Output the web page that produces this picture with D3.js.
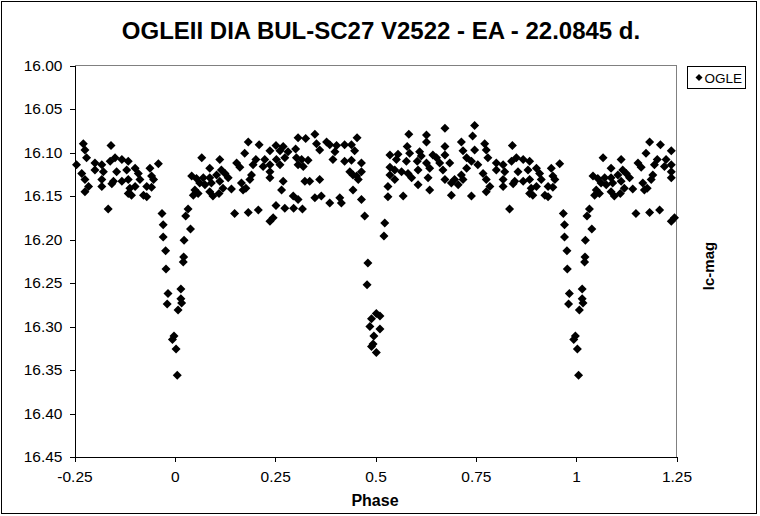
<!DOCTYPE html>
<html>
<head>
<meta charset="utf-8">
<script src="https://cdn.jsdelivr.net/npm/d3@7"></script>
<style>
  body { margin: 0; background: #fff; }
  svg { display: block; font-family: Arial, "Liberation Sans", sans-serif; }
  .axis text { font-size: 15.5px; fill: #000; }
  .axis path, .axis line { stroke: #000; shape-rendering: crispEdges; }
</style>
</head>
<body>
<div id="chart"></div>
<script>
var phase = [
  0.968, 0.971, 0.971, 0.977, 0.978, 0.983, 0.981, 0.998, 0.994,
  0.003, 0.006, 0.015, 0.015, 0.017, 0.008, 0.021, 0.022, 0.023, 0.039, 0.027, 0.033,
  0.349, 0.307, 0.326, 0.378, 0.353, 0.183, 0.210, 0.252, 0.270, 0.237, 0.262, 0.282, 0.301, 0.361,
  0.174, 0.067, 0.112, 0.087, 0.116, 0.154, 0.162, 0.202, 0.224, 0.253, 0.274, 0.303, 0.316, 0.332,
  0.195, 0.220, 0.237, 0.262, 0.307, 0.320, 0.237, 0.191, 0.237, 0.042, 0.054, 0.071, 0.087, 0.104,
  0.125, 0.133, 0.112, 0.091, 0.075, 0.062, 0.187, 0.166, 0.177, 0.141, 0.050, 0.058, 0.046, 0.087,
  0.095, 0.110, 0.120, 0.170, 0.270, 0.266, 0.324, 0.336, 0.361, 0.295, 0.307, 0.349, 0.365,
  0.149, 0.183, 0.208, 0.252, 0.274, 0.296, 0.318, 0.245, 0.237,
  0.454, 0.386, 0.403, 0.423, 0.440, 0.448, 0.399, 0.394, 0.423, 0.440, 0.465, 0.436, 0.444, 0.453,
  0.465, 0.457, 0.444, 0.411, 0.415, 0.465, 0.386, 0.473, 0.523,
  0.521, 0.481, 0.479, 0.502, 0.511, 0.490, 0.486, 0.511, 0.496, 0.490, 0.494, 0.502,
  0.583, 0.627, 0.673, 0.747, 0.742, 0.627, 0.579, 0.673, 0.714, 0.772, 0.776, 0.718, 0.747,
  0.536, 0.556, 0.585, 0.610, 0.614, 0.643, 0.652, 0.673, 0.727, 0.739, 0.780, 0.552, 0.577, 0.604,
  0.627, 0.660, 0.685, 0.755, 0.536, 0.548, 0.565, 0.606, 0.635, 0.668, 0.727, 0.801, 0.536, 0.581,
  0.590, 0.631, 0.673, 0.714, 0.697, 0.718, 0.768, 0.776, 0.548, 0.531, 0.606, 0.635, 0.689, 0.706,
  0.785, 0.776, 0.531, 0.569, 0.689, 0.739,
  0.841, 0.801, 0.818, 0.839, 0.851, 0.868, 0.884, 0.901, 0.909, 0.938, 0.959, 0.822, 0.855, 0.880,
  0.818, 0.847, 0.868, 0.884, 0.913, 0.942, 0.947, 0.818, 0.843, 0.888, 0.901, 0.930, 0.942, 0.884,
  0.892, 0.922, 0.930, 0.834
];
var mag = [
  16.170, 16.183, 16.197, 16.213, 16.234, 16.262, 16.274, 16.311, 16.315,
  16.326, 16.356, 16.257, 16.268, 16.273, 16.281, 16.226, 16.220, 16.201, 16.188, 16.173, 16.165,
  16.079, 16.083, 16.084, 16.088, 16.090, 16.088, 16.091, 16.092, 16.093, 16.098, 16.098, 16.099, 16.096, 16.097,
  16.101, 16.106, 16.108, 16.118, 16.120, 16.112, 16.117, 16.108, 16.108, 16.108, 16.106, 16.106, 16.108, 16.109,
  16.114, 16.116, 16.114, 16.114, 16.114, 16.116, 16.122, 16.126, 16.129, 16.127, 16.130, 16.129, 16.129, 16.126,
  16.124, 16.129, 16.133, 16.135, 16.137, 16.135, 16.131, 16.135, 16.141, 16.142, 16.143, 16.147, 16.149, 16.145,
  16.150, 16.147, 16.141, 16.143, 16.133, 16.143, 16.133, 16.133, 16.131, 16.150, 16.154, 16.152, 16.150,
  16.170, 16.169, 16.166, 16.161, 16.164, 16.164, 16.165, 16.175, 16.179,
  16.083, 16.091, 16.092, 16.091, 16.091, 16.098, 16.099, 16.108, 16.110, 16.109, 16.112, 16.122, 16.126, 16.127,
  16.122, 16.131, 16.143, 16.152, 16.158, 16.154, 16.158, 16.173, 16.181,
  16.196, 16.227, 16.252, 16.285, 16.288, 16.291, 16.300, 16.303, 16.311, 16.323, 16.320, 16.330,
  16.079, 16.080, 16.072, 16.069, 16.081, 16.088, 16.093, 16.093, 16.088, 16.090, 16.097, 16.098, 16.097,
  16.103, 16.102, 16.101, 16.099, 16.104, 16.103, 16.106, 16.103, 16.106, 16.110, 16.106, 16.108, 16.110, 16.110,
  16.112, 16.112, 16.112, 16.114, 16.117, 16.120, 16.122, 16.120, 16.118, 16.120, 16.118, 16.120, 16.126, 16.124,
  16.129, 16.129, 16.131, 16.126, 16.131, 16.131, 16.124, 16.131, 16.131, 16.139, 16.137, 16.143, 16.135, 16.137,
  16.139, 16.145, 16.151, 16.150, 16.149, 16.150,
  16.092, 16.112, 16.114, 16.110, 16.106, 16.108, 16.110, 16.118, 16.124, 16.118, 16.113, 16.122, 16.122, 16.120,
  16.131, 16.133, 16.133, 16.131, 16.131, 16.127, 16.131, 16.139, 16.136, 16.141, 16.139, 16.139, 16.140, 16.147,
  16.149, 16.149, 16.151, 16.165
];

var xTicks = [-0.25, 0, 0.25, 0.5, 0.75, 1, 1.25];
var xTickLabels = ["-0.25", "0", "0.25", "0.5", "0.75", "1", "1.25"];
var yTicks = [16.00, 16.05, 16.10, 16.15, 16.20, 16.25, 16.30, 16.35, 16.40, 16.45];

var width = 760;
var height = 516;
var plot = {left: 74.5, right: 676.5, top: 65.5, bottom: 457};

var svg = d3.select("#chart")
            .append("svg")
              .attr("width", width)
              .attr("height", height);

// outer chart border
svg.append("rect")
    .attr("x", 1.5)
    .attr("y", 1.5)
    .attr("width", 755)
    .attr("height", 512)
    .attr("fill", "#fff")
    .attr("stroke", "#000")
    .attr("shape-rendering", "crispEdges");

var xScale = d3.scaleLinear()
                .domain([-0.25, 1.25])
                .range([plot.left, plot.right]);

var yScale = d3.scaleLinear()
                .domain([16.00, 16.45])
                .range([plot.top, plot.bottom]);

// plot area border (top and right in grey)
svg.append("path")
    .attr("d", "M" + plot.left + "," + plot.top + "H" + plot.right + "V" + plot.bottom)
    .attr("fill", "none")
    .attr("stroke", "#808080")
    .attr("shape-rendering", "crispEdges");

// points: each observation is also repeated one period earlier/later
var points = [];
phase.forEach(function(p, i) {
  [p - 1, p, p + 1].forEach(function(q) {
    if (q >= -0.25 && q <= 1.25) {
      points.push({phase: q, mag: mag[i]});
    }
  });
});

var diamond = "M0,-4.5L4.5,0L0,4.5L-4.5,0Z";

svg.append("g")
    .attr("class", "points")
  .selectAll("path")
    .data(points)
    .enter()
  .append("path")
    .attr("d", diamond)
    .attr("fill", "#000")
    .attr("transform", function(d) {
      return "translate(" + xScale(d.phase) + "," + yScale(d.mag) + ")";
    });

// axes
var yAxis = d3.axisLeft(yScale)
              .tickValues(yTicks)
              .tickFormat(d3.format(".2f"))
              .tickSize(5)
              .tickSizeOuter(0)
              .tickPadding(7);

var xAxis = d3.axisBottom(xScale)
              .tickValues(xTicks)
              .tickFormat(function(d, i) { return xTickLabels[i]; })
              .tickSize(5)
              .tickSizeOuter(0)
              .tickPadding(9);

svg.append("g")
    .attr("class", "axis y-axis")
    .attr("transform", "translate(" + plot.left + ",0)")
    .call(yAxis);

svg.append("g")
    .attr("class", "axis x-axis")
    .attr("transform", "translate(0," + plot.bottom + ")")
    .call(xAxis);

svg.selectAll(".axis").attr("font-family", null).attr("font-size", null);

// title and axis labels
svg.append("text")
    .attr("x", 381)
    .attr("y", 39)
    .attr("text-anchor", "middle")
    .attr("font-weight", "bold")
    .attr("font-size", "24px")
    .text("OGLEII DIA BUL-SC27 V2522 - EA - 22.0845 d.");

svg.append("text")
    .attr("x", 375)
    .attr("y", 506)
    .attr("text-anchor", "middle")
    .attr("font-weight", "bold")
    .attr("font-size", "16px")
    .text("Phase");

svg.append("text")
    .attr("transform", "translate(714,266) rotate(-90)")
    .attr("text-anchor", "middle")
    .attr("font-weight", "bold")
    .attr("font-size", "15px")
    .text("lc-mag");

// legend
var legend = svg.append("g")
                  .attr("class", "legend")
                  .attr("transform", "translate(687.5,66.5)");

legend.append("rect")
        .attr("width", 58)
        .attr("height", 22)
        .attr("fill", "#fff")
        .attr("stroke", "#000")
        .attr("shape-rendering", "crispEdges");

legend.append("path")
        .attr("d", "M0,-3.5L3.5,0L0,3.5L-3.5,0Z")
        .attr("transform", "translate(11.5,11)")
        .attr("fill", "#000");

legend.append("text")
        .attr("x", 17)
        .attr("y", 16)
        .attr("font-size", "13.5px")
        .text("OGLE");
</script>
</body>
</html>
